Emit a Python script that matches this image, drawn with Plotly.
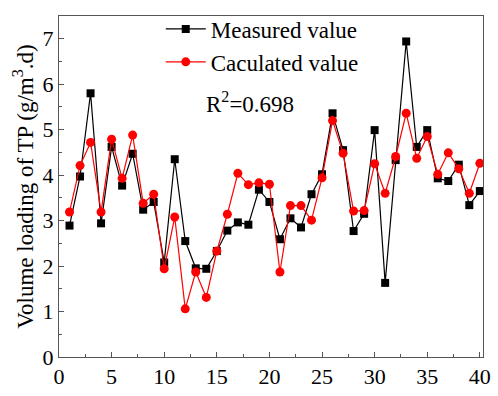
import plotly.graph_objects as go

x_idx = list(range(1, 41))
measured = [2.89, 3.97, 5.80, 2.94, 4.62, 3.77, 4.47, 3.24, 3.41, 2.08,
            4.35, 2.55, 1.95, 1.94, 2.33, 2.78, 2.96, 2.91, 3.68, 3.41,
            2.59, 3.05, 2.85, 3.58, 4.02, 5.36, 4.55, 2.77, 3.15, 4.99,
            1.63, 4.33, 6.94, 4.62, 4.99, 3.93, 3.87, 4.23, 3.34, 3.65]
calculated = [3.19, 4.21, 4.72, 3.19, 4.79, 3.93, 4.88, 3.38, 3.58, 1.94,
              3.08, 1.06, 1.87, 1.31, 2.33, 3.14, 4.04, 3.79, 3.83, 3.80,
              1.87, 3.33, 3.33, 3.01, 3.94, 5.20, 4.48, 3.21, 3.22, 4.25,
              3.60, 4.41, 5.36, 4.37, 4.85, 4.02, 4.49, 4.14, 3.60, 4.26]
x_ticks = [0, 5, 10, 15, 20, 25, 30, 35, 40]
y_ticks = [0, 1, 2, 3, 4, 5, 6, 7]

font = "Liberation Serif"
fig = go.Figure()
fig.add_trace(go.Scatter(x=x_idx, y=measured, mode="lines+markers", name="Measured value",
                         line=dict(color="black", width=1.2),
                         marker=dict(symbol="square", size=8, color="black")))
fig.add_trace(go.Scatter(x=x_idx, y=calculated, mode="lines+markers", name="Caculated value",
                         line=dict(color="#ff0000", width=1.2),
                         marker=dict(symbol="circle", size=9, color="#ff0000")))
axis_common = dict(showline=True, linecolor="#555", linewidth=1, mirror=True,
                   showgrid=False, zeroline=False, ticks="inside", ticklen=5,
                   tickcolor="#555", tickfont=dict(family=font, size=22, color="black"))
fig.update_xaxes(range=[0, 40.3], tickvals=x_ticks, **axis_common,
                 minor=dict(ticks="inside", ticklen=3, dtick=2.5, tick0=0, tickcolor="#555"))
fig.update_yaxes(range=[0, 7.5], tickvals=y_ticks, **axis_common,
                 minor=dict(ticks="inside", ticklen=3, dtick=0.5, tick0=0, tickcolor="#555"),
                 title=dict(text="Volume loading of TP (g/m<sup>3</sup>.d)",
                            font=dict(family=font, size=23, color="black"), standoff=2))
fig.add_annotation(x=0.342, y=0.745, xref="paper", yref="paper", xanchor="left", yanchor="middle",
                   text="R<sup>2</sup>=0.698", showarrow=False,
                   font=dict(family=font, size=23, color="black"))
fig.update_layout(width=498, height=396, margin=dict(l=59, r=7, t=15, b=27),
                  paper_bgcolor="white", plot_bgcolor="white",
                  legend=dict(x=0.24, y=1.025, xanchor="left", yanchor="top",
                              bgcolor="rgba(0,0,0,0)", font=dict(family=font, size=23, color="black"),
                              tracegroupgap=0, itemwidth=40))
fig.write_html("out.html")
